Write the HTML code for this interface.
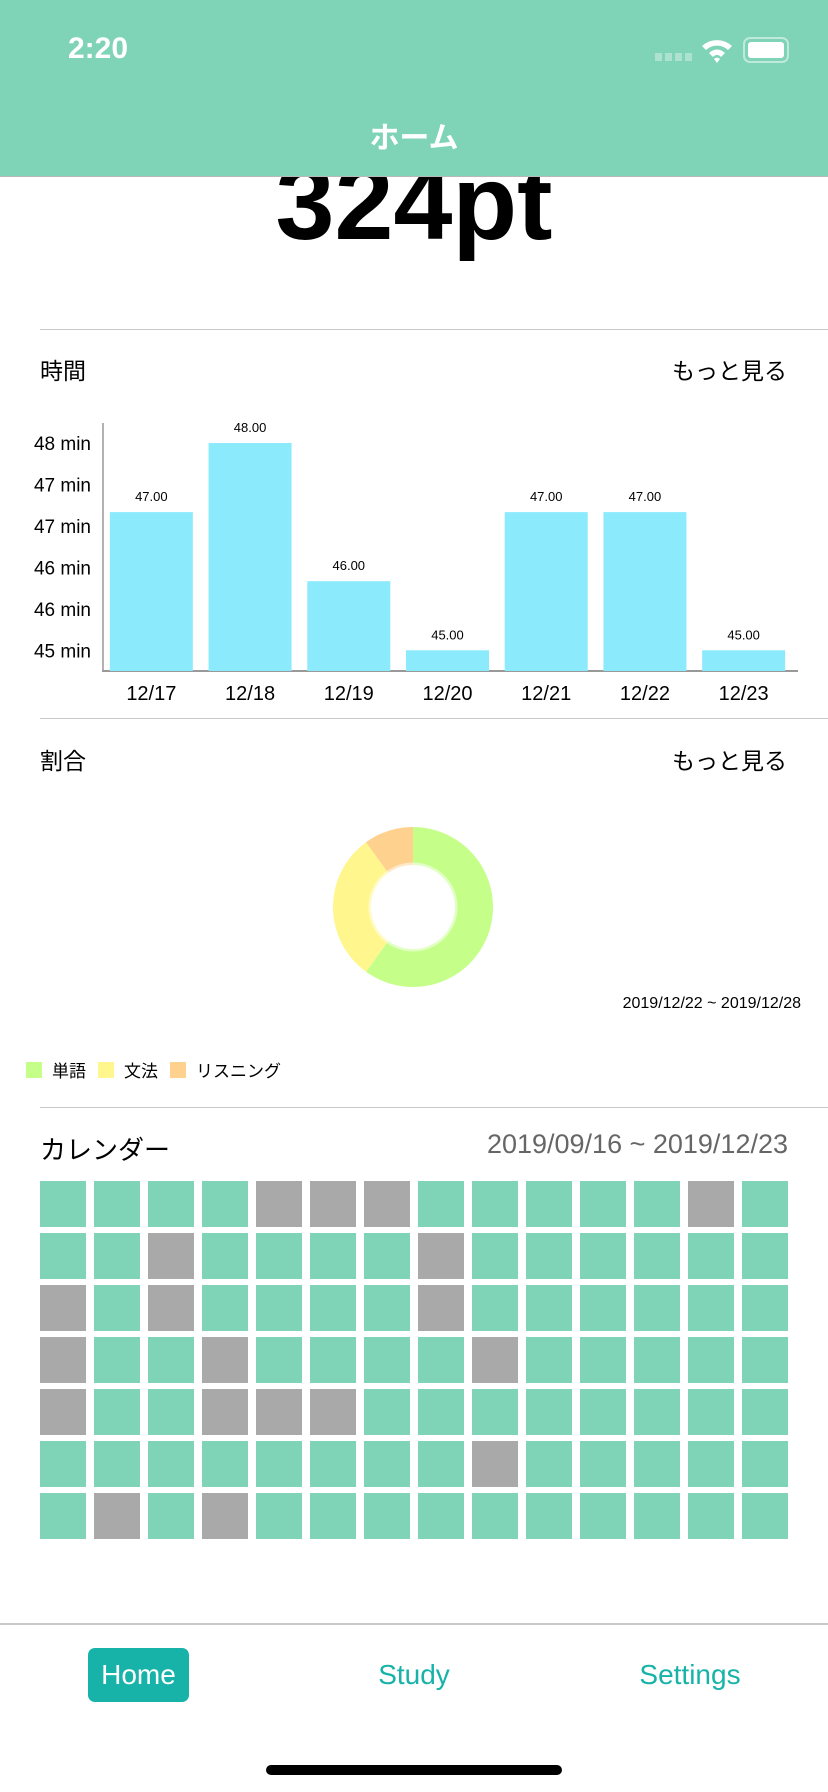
<!DOCTYPE html>
<html><head><meta charset="utf-8">
<style>
body{margin:0;width:828px;height:1792px;position:relative;background:#fff;overflow:hidden;font-family:"Liberation Sans","Noto Sans CJK JP",sans-serif;}
.a{position:absolute;}
.sep{position:absolute;left:40px;right:0;height:1px;background:#c8c8c8;}
</style></head><body>
<div class="a" style="left:0;top:0;width:828px;height:176px;background:#7fd3b6;border-bottom:1px solid #b8b8b8;z-index:2">
  <div class="a" style="left:68px;top:32px;font-size:30px;color:#fff;font-weight:bold">2:20</div>
  <div class="a" style="left:655px;top:53px;width:38px;height:8px;background:repeating-linear-gradient(90deg,rgba(255,255,255,.35) 0 7px,transparent 7px 10px);"></div>
  <svg class="a" style="left:700px;top:36px" width="34" height="28" viewBox="0 0 34 28"><path d="M2 10 A22 22 0 0 1 32 10 L28 14 A16 16 0 0 0 6 14Z M9 17 A11 11 0 0 1 25 17 L21 21 A5 5 0 0 0 13 21Z M14 23 L17 27 L20 23 A4 4 0 0 0 14 23Z" fill="#fff"/></svg>
  <div class="a" style="left:743px;top:37px;width:42px;height:22px;border:2px solid rgba(255,255,255,.5);border-radius:7px;"><div style="margin:3px;height:16px;background:#fff;border-radius:3px"></div></div>
  <div class="a" style="left:0;width:828px;top:113px;text-align:center;font-size:30px;color:#fff;font-weight:bold">ホーム</div>
</div>
<div class="a" style="left:0;width:828px;top:143px;text-align:center;font-size:106px;font-weight:bold;line-height:120px;color:#000">324pt</div>
<div class="sep" style="top:329px"></div>
<div class="a" style="left:40px;top:352px;font-size:23px">時間</div>
<div class="a" style="right:41px;top:352px;font-size:23px">もっと見る</div>
<svg class="a" id="bar" style="left:0;top:400px" width="828" height="300"></svg>
<div class="sep" style="top:718px"></div>
<div class="a" style="left:40px;top:742px;font-size:23px">割合</div>
<div class="a" style="right:41px;top:742px;font-size:23px">もっと見る</div>
<svg class="a" id="pie" style="left:313px;top:807px" width="200" height="200"></svg>
<div class="a" style="right:27px;top:995px;font-size:16px">2019/12/22 ~ 2019/12/28</div>
<div class="a" id="legend" style="left:26px;top:1057px;font-size:17px;display:flex;align-items:center"></div>
<div class="sep" style="top:1107px"></div>
<div class="a" style="left:40px;top:1130px;font-size:26px">カレンダー</div>
<div class="a" style="right:40px;top:1129px;font-size:27px;color:#666">2019/09/16 ~ 2019/12/23</div>
<div id="grid"></div>
<div class="a" style="left:0;top:1623px;width:828px;height:2px;background:#c8c8c8"></div>
<div class="a" style="left:88px;top:1648px;width:101px;height:54px;background:#17b3a9;border-radius:7px;color:#fff;font-size:28px;text-align:center;line-height:54px">Home</div>
<div class="a" style="left:334px;width:160px;top:1648px;color:#17b3a9;font-size:28px;text-align:center;line-height:54px">Study</div>
<div class="a" style="left:600px;width:180px;top:1648px;color:#17b3a9;font-size:28px;text-align:center;line-height:54px">Settings</div>
<div class="a" style="left:266px;top:1765px;width:296px;height:10px;background:#000;border-radius:5px"></div>
<script>
const NS="http://www.w3.org/2000/svg";
const days=["12/17","12/18","12/19","12/20","12/21","12/22","12/23"];
const minutes=[47,48,46,45,47,47,45];
const valueLabels=["47.00","48.00","46.00","45.00","47.00","47.00","45.00"];
const yTicks=[48,47.4,46.8,46.2,45.6,45.0];
const yTickLabels=["48 min","47 min","47 min","46 min","46 min","45 min"];
const pieLabels=["単語","文法","リスニング"];
const pieValues=[6,3,1];
const pieColors=["#c5ff8a","#fff68e","#ffd18f"];
const calendar=[
"GGGGXXXGGGGGXG","GGXGGGGXGGGGGG","XGXGGGGXGGGGGG","XGGXGGGGXGGGGG","XGGXXXGGGGGGGG","GGGGGGGGXGGGGG","GXGXGGGGGGGGGG"];
function mk(t,a,p){const e=document.createElementNS(NS,t);for(const k in a)e.setAttribute(k,a[k]);p.appendChild(e);return e;}
const bar=document.getElementById('bar');
const yMin=44.7,yMax=48.29,baseY=271,topY=23,x0=102,x1=793;
const y=v=>baseY-(v-yMin)/(yMax-yMin)*(baseY-topY);
const slot=(x1-x0)/days.length;
const bx=i=>x0+slot*i+slot/2;
mk('line',{x1:x0+1,y1:topY,x2:x0+1,y2:baseY,stroke:'#999','stroke-width':1.5},bar);
mk('line',{x1:x0,y1:baseY,x2:798,y2:baseY,stroke:'#999','stroke-width':2},bar);
yTicks.forEach((t,i)=>{const e=mk('text',{x:91,y:y(t)+7,'text-anchor':'end','font-size':19},bar);e.textContent=yTickLabels[i];

});
days.forEach((d,i)=>{const r=mk('rect',{x:bx(i)-41.5,y:y(minutes[i]),width:83,height:baseY-y(minutes[i]),fill:'#8ceafd'},bar);


const v=mk('text',{x:bx(i),y:y(minutes[i])-11,'text-anchor':'middle','font-size':13},bar);v.textContent=valueLabels[i];


const l=mk('text',{x:bx(i),y:300,'text-anchor':'middle','font-size':20},bar);l.textContent=d;

});
const pie=document.getElementById('pie');
const cx=100,cy=100,R=80,r=42;const tot=pieValues.reduce((a,b)=>a+b,0);let ang=0;
function pt(rad,a){return [cx+rad*Math.sin(a),cy-rad*Math.cos(a)];}
pieValues.forEach((v,i)=>{const a0=ang,a1=ang+v/tot*2*Math.PI;ang=a1;const lg=a1-a0>Math.PI?1:0;
const p0=pt(R,a0),p1=pt(R,a1),q1=pt(r,a1),q0=pt(r,a0);
const s=mk('path',{d:`M${p0} A${R} ${R} 0 ${lg} 1 ${p1} L${q1} A${r} ${r} 0 ${lg} 0 ${q0}Z`,fill:pieColors[i]},pie);

});
mk('circle',{cx:cx,cy:cy,r:r,fill:'none',stroke:'rgba(255,255,255,0.5)','stroke-width':5},pie);
const lg=document.getElementById('legend');
pieLabels.forEach((n,i)=>{const it=document.createElement('span');it.style.cssText='display:flex;align-items:center;margin-right:12px';
it.innerHTML=`<span style="width:16px;height:16px;background:${pieColors[i]};display:inline-block;margin-right:10px"></span>${n}`;


lg.appendChild(it);});
const g=document.getElementById('grid');
calendar.forEach((row,ri)=>{[...row].forEach((c,ci)=>{const d=document.createElement('div');d.className='a';
d.style.cssText=`left:${40+ci*54}px;top:${1181+ri*52}px;width:46px;height:46px;background:${c==='G'?'#7fd3b6':'#a9a9a9'}`;


g.appendChild(d);});});
</script>
</body></html>
